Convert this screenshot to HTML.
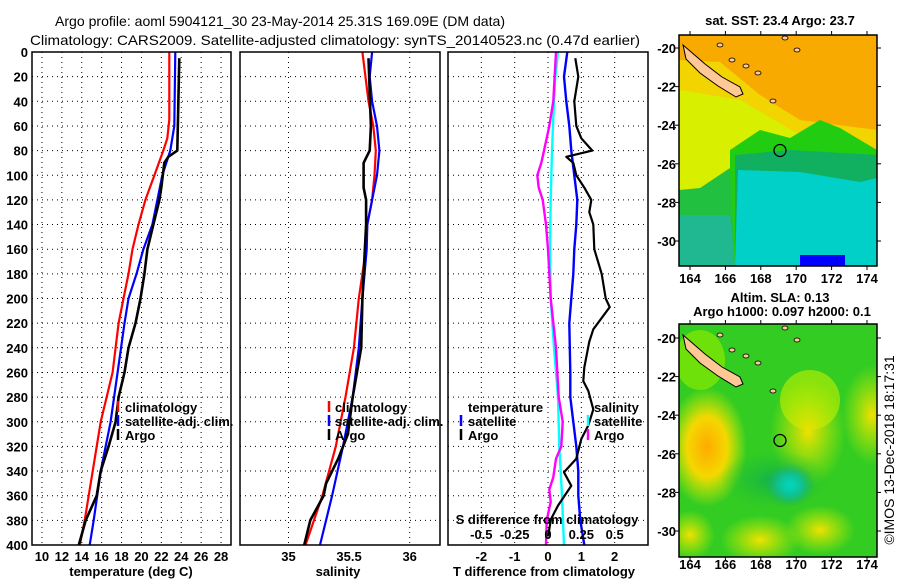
<!DOCTYPE html>
<html><head><meta charset="utf-8"><style>
html,body{margin:0;padding:0;background:#fff}
svg{display:block}
text{font-family:"Liberation Sans",Arial,sans-serif;fill:#000}
.b{font-weight:bold;font-size:13px}
.t{font-size:14px}
</style></head><body>
<svg id="svg" width="900" height="580" viewBox="0 0 900 580" xmlns="http://www.w3.org/2000/svg">
<text class="t" x="55" y="26" textLength="450" lengthAdjust="spacingAndGlyphs">Argo profile: aoml 5904121_30 23-May-2014 25.31S 169.09E (DM data)</text>
<text class="t" x="30" y="45" textLength="610" lengthAdjust="spacingAndGlyphs">Climatology: CARS2009. Satellite-adjusted climatology: synTS_20140523.nc (0.47d earlier)</text>
<g id="plots"></g>
<g id="maps"></g>
<text class="t" transform="translate(894,450) rotate(-90)" text-anchor="middle" font-size="13">©IMOS 13-Dec-2018 18:17:31</text>
</svg>
<script>
// ---- data ----
const tempDepths = [0,55,70,80,100,120,140,160,180,200,220,260,300,340,380,400];
const tempClim   = [22.8,22.8,22.6,22.2,21.3,20.4,19.7,19.1,18.7,18.2,17.7,17.1,15.9,15.1,14.3,13.8];
const tempSatDepths = [0,60,80,90,100,120,140,160,180,200,220,260,300,340,380,400];
const tempSat    = [23.4,23.3,22.9,22.5,22.1,21.6,21.1,20.2,19.5,18.7,18.3,17.6,16.9,15.9,15.2,14.8];
const argoDepths = [5,80,85,90,110,120,140,160,180,200,220,240,260,280,300,320,340,360,380,400];
const tempArgo   = [23.8,23.6,22.7,22.3,22.0,21.8,21.2,20.6,20.3,19.9,19.4,18.7,18.3,17.7,17.4,16.7,15.9,15.5,14.4,13.7];
const salDepths  = [0,40,60,80,100,120,140,160,180,200,240,280,320,360,400];
const salClim    = [35.61,35.66,35.70,35.72,35.71,35.69,35.65,35.64,35.61,35.58,35.54,35.47,35.39,35.28,35.14];
const salSatDepths = [0,20,40,60,80,100,120,140,160,200,240,280,320,360,400];
const salSat     = [35.69,35.67,35.69,35.73,35.75,35.73,35.69,35.65,35.645,35.61,35.58,35.53,35.45,35.36,35.26];
const salArgoDepths = [5,60,80,90,110,120,140,200,240,280,310,330,350,360,380,400];
const salArgo    = [35.66,35.68,35.67,35.62,35.62,35.64,35.64,35.61,35.60,35.53,35.49,35.41,35.31,35.29,35.18,35.13];
const dTSatDepths = [0,20,40,60,80,100,120,140,160,180,200,220,260,280,300,320,340,360,380,400];
const dTSat      = [0.58,0.48,0.55,0.64,0.70,0.79,0.88,0.85,0.79,0.76,0.70,0.64,0.67,0.67,0.76,0.85,0.91,0.91,0.97,1.09];
const dTArgoDepths = [5,20,40,60,70,80,85,90,100,110,120,130,140,160,180,200,207,225,235,256,267,275,290,303,314,330,341,352,368,379,393];
const dTArgo     = [0.82,0.91,0.79,0.85,1.0,1.33,0.55,0.76,0.85,1.09,1.30,1.24,1.36,1.39,1.61,1.73,1.85,1.36,1.24,1.09,1.06,1.21,1.36,1.21,1.0,0.85,0.48,0.70,0.30,0.09,0.0];
const dSArgoDepths = [0,40,60,80,90,100,110,120,140,160,200,240,280,300,320,330,345,355,365,380,400];
const dSArgo     = [0.06,0.04,0.01,-0.03,-0.05,-0.08,-0.07,-0.04,-0.015,0,0.02,0.06,0.08,0.11,0.10,0.06,0.04,0.01,0.02,-0.01,-0.015];
const dSSatDepths = [0,20,40,80,120,160,200,240,280,320,360,400];
const dSSat      = [0.075,0.055,0.045,0.03,0.02,0.015,0.02,0.045,0.075,0.085,0.105,0.12];
const depthTicks = [0,20,40,60,80,100,120,140,160,180,200,220,240,260,280,300,320,340,360,380,400];
const tempTicks  = [10,12,14,16,18,20,22,24,26,28];
const salTicks   = [35,35.5,36];
const salGrid    = [35,36];
const dTTicks    = [-2,-1,0,1,2];
const dSTicks    = [-0.5,-0.25,0,0.25,0.5];
const dSTickLabels = ["-0.5","-0.25","0","0.25","0.5"];

const NS='http://www.w3.org/2000/svg';
const plots=document.getElementById('plots');
function mk(tag,attrs,parent,txt){const e=document.createElementNS(NS,tag);for(const k in attrs)e.setAttribute(k,attrs[k]);if(txt!==undefined)e.textContent=txt;(parent||plots).appendChild(e);return e;}
const yTop=52,yBot=545;
const yD=d=>yTop+(d/400)*(yBot-yTop);
function lin(d0,d1,r0,r1){return v=>r0+(v-d0)/(d1-d0)*(r1-r0);}
const panels=[
 {x0:32,x1:231,x:lin(9,29,32,231),name:'temperature'},
 {x0:240,x1:440,x:lin(34.6,36.25,240,440),name:'salinity'},
 {x0:448,x1:648,x:lin(-3,3,448,648),name:'t-difference'}
];
const xT=panels[0].x,xS=panels[1].x,xDT=panels[2].x,xDS=lin(-0.75,0.75,448,648);

function grid(p,vx){
 const g=mk('g',{});
 
 
 depthTicks.forEach(d=>{if(d>0&&d<400)mk('line',{x1:p.x0,x2:p.x1,y1:yD(d),y2:yD(d),stroke:'#000','stroke-width':1,'stroke-dasharray':'1,4'},g);});
 vx.forEach(v=>mk('line',{x1:p.x(v),x2:p.x(v),y1:yTop,y2:yBot,stroke:'#000','stroke-width':1,'stroke-dasharray':'1,4'},g));
}
grid(panels[0],tempTicks);grid(panels[1],salGrid);grid(panels[2],dTTicks);

function line(xs,ds,xf,color,w,name){
 const pts=xs.map((v,i)=>xf(v).toFixed(1)+','+yD(ds[i]).toFixed(1)).join(' ');
 const el=mk('polyline',{points:pts,fill:'none',stroke:color,'stroke-width':w,'stroke-linejoin':'round'});
 
 
}
line(tempClim,tempDepths,xT,'#f00',2.2,'temp-climatology-line');
line(tempSat,tempSatDepths,xT,'#00f',2.2,'temp-satellite-line');
line(tempArgo,argoDepths,xT,'#000',2.6,'temp-argo-line');
line(salClim,salDepths,xS,'#f00',2.2,'sal-climatology-line');
line(salSat,salSatDepths,xS,'#00f',2.2,'sal-satellite-line');
line(salArgo,salArgoDepths,xS,'#000',2.6,'sal-argo-line');
line(dSSat,dSSatDepths,xDS,'#0ff',2.4,'sdiff-satellite-line');
line(dSArgo,dSArgoDepths,xDS,'#f0f',2.4,'sdiff-argo-line');
line(dTSat,dTSatDepths,xDT,'#00f',2.4,'tdiff-satellite-line');
line(dTArgo,dTArgoDepths,xDT,'#000',2.2,'tdiff-argo-line');

panels.forEach(p=>{
 const r=mk('rect',{x:p.x0,y:yTop,width:p.x1-p.x0,height:yBot-yTop,fill:'none',stroke:'#000','stroke-width':1.5});
 
 
});
depthTicks.forEach(d=>{
 const t=mk('text',{x:28,y:yD(d)+5,'text-anchor':'end',class:'b'},plots,String(d));
 
 
});
function xlabels(ticks,labels,xf,y){ticks.forEach((v,i)=>{
 const t=mk('text',{x:xf(v),y:y,'text-anchor':'middle',class:'b'},plots,labels[i]);
 
 
});}
xlabels(tempTicks,tempTicks.map(String),xT,561);
xlabels(salTicks,salTicks.map(String),xS,561);
xlabels(dTTicks,dTTicks.map(String),xDT,561);
xlabels(dSTicks,dSTickLabels,xDS,539);
function title(x,y,s,name){const t=mk('text',{x:x,y:y,'text-anchor':'middle',class:'b'},plots,s);
 
 }
title(131,576,'temperature (deg C)','temperature-axis-title');
title(338,576,'salinity','salinity-axis-title');
title(544,576,'T difference from climatology','tdiff-axis-title');
title(547,524,'S difference from climatology','sdiff-axis-title');

function leg(bx,tx,y,color,label,name){
 const g=mk('g',{});
 
 
 if(color)mk('line',{x1:bx,x2:bx,y1:y-6,y2:y+5,stroke:color,'stroke-width':2.5},g);
 mk('text',{x:tx,y:y+5,class:'b'},g,label);
}
leg(118,125,407,'#f00','climatology','legend-climatology');
leg(118,125,421,'#00f','satellite-adj. clim.','legend-satellite-adj');
leg(118,125,435,'#000','Argo','legend-argo');
leg(329,335,407,'#f00','climatology','legend-sal-climatology');
leg(329,335,421,'#00f','satellite-adj. clim.','legend-sal-satellite-adj');
leg(329,335,435,'#000','Argo','legend-sal-argo');
leg(0,468,407,null,'temperature','legend-temperature-header');
leg(461,468,421,'#00f','satellite','legend-tdiff-satellite');
leg(461,468,435,'#000','Argo','legend-tdiff-argo');
leg(0,594,407,null,'salinity','legend-salinity-header');
leg(588,594,421,'#0ff','satellite','legend-sdiff-satellite');
leg(588,594,435,'#f0f','Argo','legend-sdiff-argo');

// ---- maps ----
const maps=document.getElementById('maps');
function mm(tag,attrs,parent,txt){return mk(tag,attrs,parent||maps,txt);}
const mapLons=[164,166,168,170,172,174];
const mapLats=[-20,-22,-24,-26,-28,-30];
const lonX=lin(164,174,690,867);
function island(dy,g){
 mm('polygon',{points:[[683,45],[690,51],[705,64],[722,77],[740,87],[743,94],[736,97],[718,86],[700,73],[686,59]].map(p=>p[0]+','+(p[1]+dy)).join(' '),fill:'#ffc896',stroke:'#000','stroke-width':1},g);
 [[720,45],[732,60],[746,66],[758,73],[785,38],[797,50],[773,101]].forEach(p=>mm('ellipse',{cx:p[0],cy:p[1]+dy,rx:3,ry:2,fill:'#ffc896',stroke:'#000','stroke-width':0.8},g));
}
function frame(top,bot,lat20,g,labY){
 mm('rect',{x:679,y:top,width:198,height:bot-top,fill:'none',stroke:'#000','stroke-width':1.5},g);
 mapLons.forEach(l=>{mm('line',{x1:lonX(l),x2:lonX(l),y1:bot,y2:bot+4,stroke:'#000'},g);mm('line',{x1:lonX(l),x2:lonX(l),y1:top,y2:top-4,stroke:'#000'},g);
  mm('text',{x:lonX(l),y:labY,'text-anchor':'middle',class:'b'},g,String(l));});
 mapLats.forEach(l=>{const y=lat20+(-20-l)*19.3;mm('line',{x1:675,x2:679,y1:y,y2:y,stroke:'#000'},g);mm('line',{x1:877,x2:881,y1:y,y2:y,stroke:'#000'},g);
  mm('text',{x:676,y:y+5,'text-anchor':'end',class:'b'},g,String(l));});
 mm('circle',{cx:780,cy:lat20+5.31*19.3,r:6,fill:'none',stroke:'#000','stroke-width':1.3},g);
}
// map 1 (SST)
const g1=mm('g',{});


mm('defs',{},g1).innerHTML='<clipPath id="c1"><rect x="679" y="35" width="198" height="231"/></clipPath><clipPath id="c2"><rect x="679" y="324" width="198" height="233"/></clipPath>'+
 '<radialGradient id="ry1"><stop offset="0" stop-color="#ffaa00"/><stop offset="0.5" stop-color="#f4d800"/><stop offset="1" stop-color="#d8f000" stop-opacity="0"/></radialGradient>'+
 '<radialGradient id="ry2"><stop offset="0" stop-color="#f0e000"/><stop offset="1" stop-color="#c8f000" stop-opacity="0"/></radialGradient>'+
 '<radialGradient id="rc"><stop offset="0" stop-color="#00d8c0"/><stop offset="0.5" stop-color="#10c090"/><stop offset="1" stop-color="#20b060" stop-opacity="0"/></radialGradient>'+
 '<radialGradient id="rg"><stop offset="0" stop-color="#10b050"/><stop offset="1" stop-color="#20c030" stop-opacity="0"/></radialGradient>';
const m1=mm('g',{'clip-path':'url(#c1)'},g1);
mm('rect',{x:679,y:35,width:198,height:231,fill:'#f9aa00'},m1);
mm('polygon',{points:'679,60 720,62 760,95 800,120 877,130 877,266 679,266',fill:'#f2d400'},m1);
mm('polygon',{points:'679,90 740,100 800,135 877,165 877,266 679,266',fill:'#d8f000'},m1);
mm('polygon',{points:'730,150 760,130 790,138 820,120 840,128 877,150 877,266 730,266',fill:'#22cc10'},m1);
mm('polygon',{points:'679,190 700,188 730,168 735,266 679,266',fill:'#22c040'},m1);
mm('polygon',{points:'679,215 730,215 735,266 679,266',fill:'#20b890'},m1);
mm('polygon',{points:'735,155 790,150 877,155 877,266 735,266',fill:'#10b060'},m1);
mm('polygon',{points:'738,170 800,172 860,182 877,178 877,266 735,266',fill:'#00d0c8'},m1);
mm('rect',{x:800,y:255,width:45,height:11,fill:'#0000ff'},m1);
island(0,m1);
frame(35,266,48,g1,283);
mm('text',{x:780,y:25,'text-anchor':'middle',class:'b'},g1,'sat. SST: 23.4 Argo: 23.7');
// map 2 (SLA)
const g2=mm('g',{});


const m2=mm('g',{'clip-path':'url(#c2)'},g2);
mm('rect',{x:679,y:324,width:198,height:233,fill:'#33cc22'},m2);
mm('ellipse',{cx:700,cy:360,rx:25,ry:30,fill:'#88e800',opacity:0.7},m2);
mm('ellipse',{cx:810,cy:400,rx:30,ry:30,fill:'#c0f000',opacity:0.6},m2);
mm('ellipse',{cx:707,cy:447,rx:40,ry:60,fill:'url(#ry1)'},m2);
mm('ellipse',{cx:808,cy:432,rx:38,ry:55,fill:'url(#ry2)'},m2);
mm('ellipse',{cx:872,cy:415,rx:30,ry:50,fill:'url(#ry2)'},m2);
mm('ellipse',{cx:760,cy:540,rx:40,ry:25,fill:'url(#ry2)'},m2);
mm('ellipse',{cx:820,cy:530,rx:35,ry:25,fill:'url(#ry2)'},m2);
mm('ellipse',{cx:690,cy:535,rx:25,ry:25,fill:'url(#ry2)'},m2);
mm('ellipse',{cx:775,cy:480,rx:55,ry:30,fill:'url(#rg)'},m2);
mm('ellipse',{cx:790,cy:485,rx:25,ry:22,fill:'url(#rc)'},m2);
island(290,m2);
frame(324,557,338,g2,569);
mm('text',{x:780,y:302,'text-anchor':'middle',class:'b'},g2,'Altim. SLA: 0.13');
mm('text',{x:782,y:316,'text-anchor':'middle',class:'b'},g2,'Argo h1000: 0.097 h2000: 0.1');
</script>
</body></html>
